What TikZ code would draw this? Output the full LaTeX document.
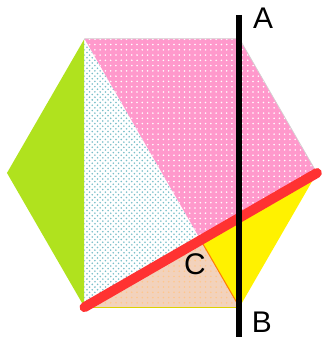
\documentclass[tikz,border=0pt]{standalone}
\usepackage{fontspec}
\setmainfont{Liberation Sans}
\usetikzlibrary{patterns}

\definecolor{leaf}{RGB}{176,226,30}
\definecolor{rose}{RGB}{255,153,204}
\definecolor{peach}{RGB}{242,210,188}
\definecolor{tealdot}{RGB}{120,190,200}
\definecolor{redline}{RGB}{255,50,50}

\begin{document}
\begin{tikzpicture}[x=3.1cm,y=3.1cm,
  lbl/.style={font=\fontsize{17}{20}\selectfont},
  piece/.style={draw=gray!35, line width=0.4pt}]
  \useasboundingbox (-1.045,-1.110) rectangle (1.052,1.116);

  % corners of the hexagon
  \foreach \n/\a in {R/0,TR/60,TL/120,L/180,BL/240,BR/300}
    \coordinate (\n) at (\a:1);
  \coordinate (X) at (0.25,-0.433);
  \coordinate (Atop) at (0.5,1.02);
  \coordinate (Bbot) at (0.5,-1.058);

  \fill[leaf] (L) -- (TL) -- (BL) -- cycle;
  \fill[white, postaction={pattern=crosshatch dots, pattern color=tealdot}] (TL) -- (BL) -- (X) -- cycle;
  \fill[rose, postaction={pattern=dots, pattern color=white}] (TL) -- (TR) -- (R) -- (X) -- cycle;
  \fill[yellow] (X) -- (R) -- (BR) -- cycle;
  \fill[peach, postaction={pattern=dots, pattern color=orange!45}] (BL) -- (X) -- (BR) -- cycle;
  \draw[piece] (TL) -- (TR) -- (R);
  \draw[draw=yellow!70!olive, line width=0.5pt] (BL) -- (BR);
  \draw[orange, line width=0.6pt] (X) -- (BR);

  \draw[redline, line width=5.6pt, line cap=round] (BL) -- (R);
  \draw[black, line width=3.4pt] (Atop) -- (Bbot);

  \node[lbl] (A) at (0.652,1.0) {A};
  \node[lbl] (B) at (0.645,-0.961) {B};
  \node[lbl] (C) at (0.213,-0.587) {C};
\end{tikzpicture}
\end{document}
